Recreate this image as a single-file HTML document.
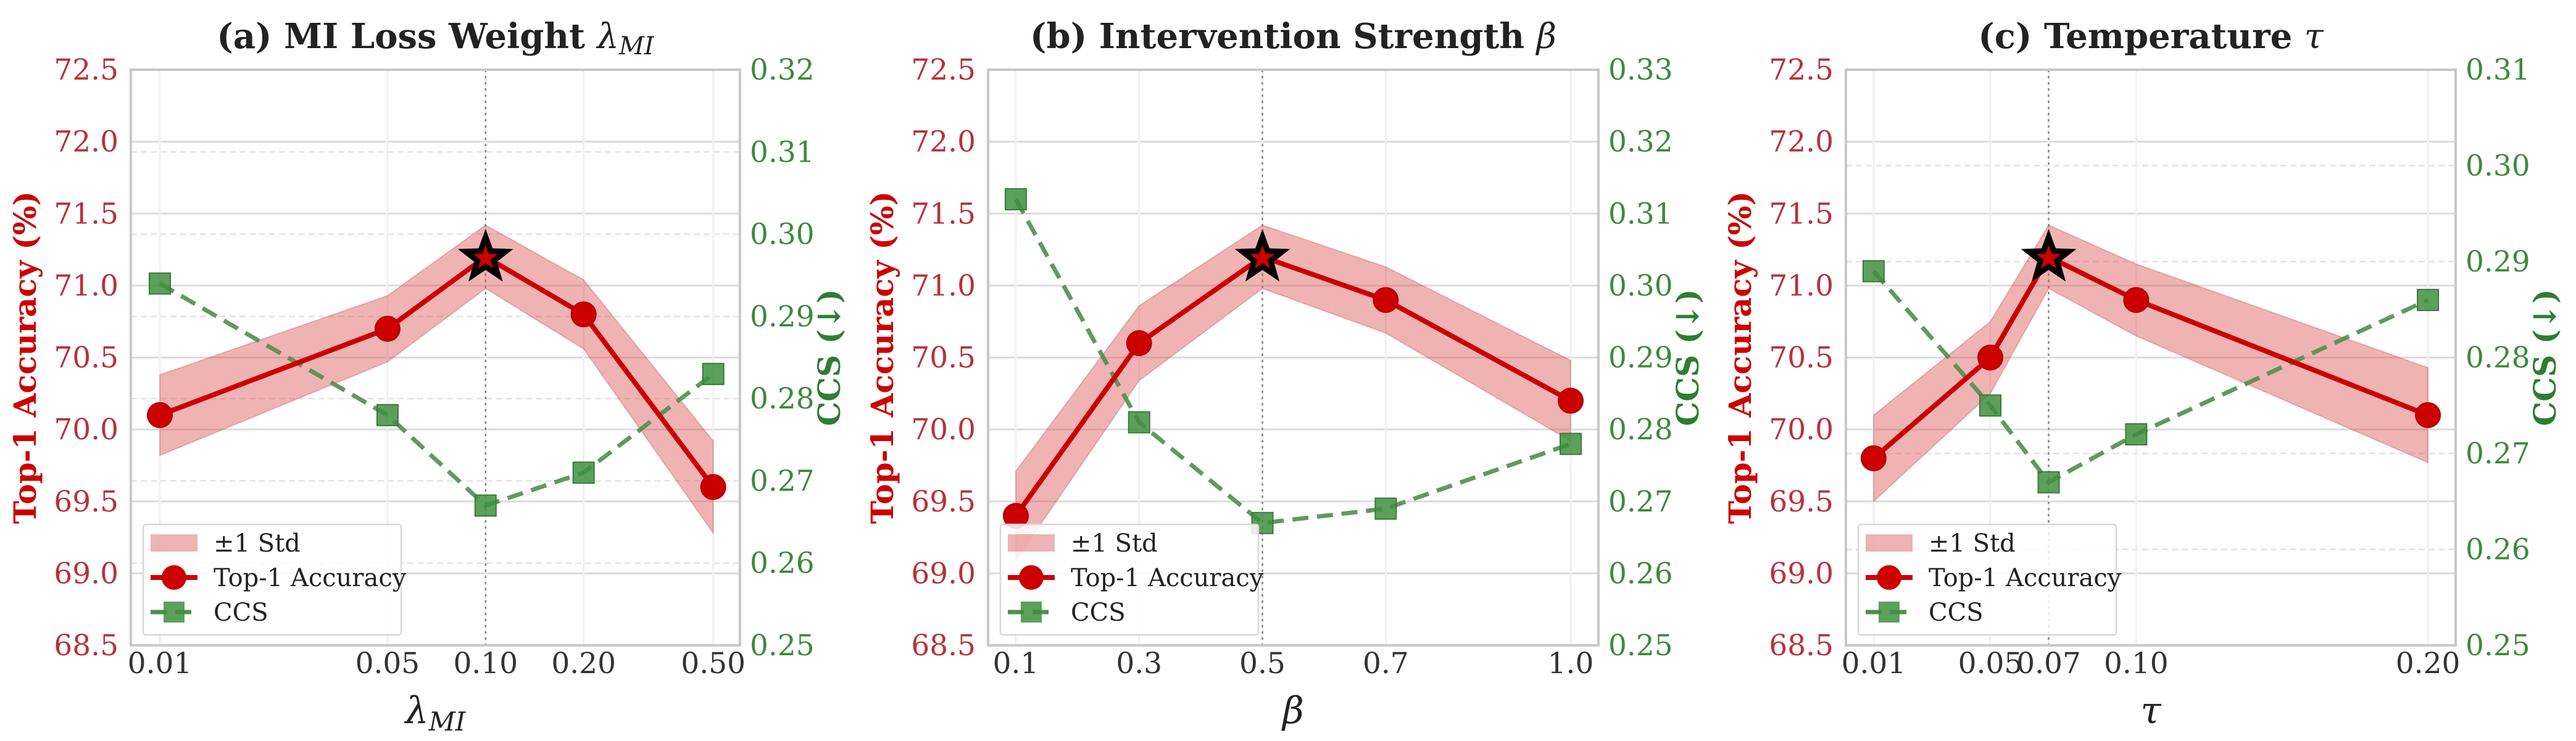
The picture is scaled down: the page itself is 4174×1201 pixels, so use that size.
<!DOCTYPE html>
<html><head><meta charset="utf-8">
<style>
html,body{margin:0;padding:0;background:#fff;}
svg{display:block;}
text{font-family:"DejaVu Serif","Liberation Serif",serif;}
</style></head>
<body>
<svg id="fig" width="4174" height="1201" viewBox="0 0 4174 1201" xmlns="http://www.w3.org/2000/svg"></svg>
<script>
// ---- Panel A data ----
const aX = [0.01, 0.05, 0.10, 0.20, 0.50];
const aTicks = ["0.01","0.05","0.10","0.20","0.50"];
const aAcc = [70.1, 70.7, 71.2, 70.8, 69.6];
const aStd = [0.28, 0.23, 0.22, 0.24, 0.32];
const aCcs = [0.294, 0.278, 0.267, 0.271, 0.283];
const aRightTicks = ["0.25","0.26","0.27","0.28","0.29","0.30","0.31","0.32"];
// ---- Panel B data ----
const bX = [0.1, 0.3, 0.5, 0.7, 1.0];
const bTicks = ["0.1","0.3","0.5","0.7","1.0"];
const bAcc = [69.4, 70.6, 71.2, 70.9, 70.2];
const bStd = [0.31, 0.26, 0.22, 0.23, 0.28];
const bCcs = [0.312, 0.281, 0.267, 0.269, 0.278];
const bRightTicks = ["0.25","0.26","0.27","0.28","0.29","0.30","0.31","0.32","0.33"];
// ---- Panel C data ----
const cX = [0.01, 0.05, 0.07, 0.10, 0.20];
const cTicks = ["0.01","0.05","0.07","0.10","0.20"];
const cAcc = [69.8, 70.5, 71.2, 70.9, 70.1];
const cStd = [0.30, 0.25, 0.22, 0.25, 0.33];
const cCcs = [0.289, 0.275, 0.267, 0.272, 0.286];
const cRightTicks = ["0.25","0.26","0.27","0.28","0.29","0.30","0.31"];
// shared left axis ticks
const leftTicks = ["68.5","69.0","69.5","70.0","70.5","71.0","71.5","72.0","72.5"];

const NS = "http://www.w3.org/2000/svg";
const svg = document.getElementById('fig');
function el(tag, attrs, parent, txt){
  const e = document.createElementNS(NS, tag);
  for (const k in attrs) e.setAttribute(k, attrs[k]);
  if (txt !== undefined) e.textContent = txt;
  (parent||svg).appendChild(e);
  return e;
}
const RED="#cc0000";
const TOP=113, BOT=1046;

function starPath(cx, cy, R, r){
  let d="";
  for(let i=0;i<10;i++){
    const ang=-Math.PI/2+i*Math.PI/5;
    const rad=i%2?r:R;
    d+=(i?"L":"M")+(cx+rad*Math.cos(ang)).toFixed(1)+","+(cy+rad*Math.sin(ang)).toFixed(1);
  }
  return d+"Z";
}

function panel(opt){
  const g = el('g',{});
  
  
  const L=opt.left, R=opt.right;
  const xs = opt.log ? (v)=>L+(Math.log10(v)-opt.xmin)/(opt.xmax-opt.xmin)*(R-L)
                     : (v)=>L+(v-opt.xmin)/(opt.xmax-opt.xmin)*(R-L);
  const yl = (v)=>BOT-(v-68.5)/(72.5-68.5)*(BOT-TOP);
  const rmin=parseFloat(opt.rticks[0]), rmax=parseFloat(opt.rticks[opt.rticks.length-1]);
  const yr = (v)=>BOT-(v-rmin)/(rmax-rmin)*(BOT-TOP);

  const bg=el('rect',{x:L,y:TOP,width:R-L,height:BOT-TOP,fill:'#fff'},g);
   
  opt.rticks.forEach(t=>{
    const y=yr(parseFloat(t));
    const ln=el('line',{x1:L,x2:R,y1:y,y2:y,stroke:'#e4e4e4','stroke-width':2.5,'stroke-dasharray':'10,6'},g);
     
  });
  leftTicks.forEach(t=>{
    const y=yl(parseFloat(t));
    const ln=el('line',{x1:L,x2:R,y1:y,y2:y,stroke:'#dcdcdc','stroke-width':3},g);
     
  });
  opt.x.forEach(v=>{
    const x=xs(v);
    const ln=el('line',{x1:x,x2:x,y1:TOP,y2:BOT,stroke:'#f0f0f0','stroke-width':3},g);
     
  });
  const bi=opt.acc.indexOf(Math.max(...opt.acc));
  const vl=el('line',{x1:xs(opt.x[bi]),x2:xs(opt.x[bi]),y1:TOP,y2:BOT,stroke:'#888','stroke-width':2.5,'stroke-dasharray':'4,6'},g);
   

  let d="";
  opt.x.forEach((v,i)=>{ d+=(i?"L":"M")+xs(v)+","+yl(opt.acc[i]+opt.std[i]); });
  for(let i=opt.x.length-1;i>=0;i--){ d+="L"+xs(opt.x[i])+","+yl(opt.acc[i]-opt.std[i]); }
  const band=el('path',{d:d+"Z",fill:'#d84a4a','fill-opacity':0.42,stroke:'#c04040','stroke-opacity':0.3,'stroke-width':2},g);
   

  let cd="";
  opt.x.forEach((v,i)=>{ cd+=(i?"L":"M")+xs(v)+","+yr(opt.ccs[i]); });
  const cl=el('path',{d:cd,fill:'none',stroke:'#4e8f4e','stroke-width':7,'stroke-dasharray':'26,14','stroke-opacity':0.9},g);
   
  opt.ccs.forEach((v,i)=>{
    const s=el('rect',{x:xs(opt.x[i])-17,y:yr(v)-17,width:34,height:34,fill:'#3f8f3f','fill-opacity':0.85,stroke:'#3a7a3a','stroke-width':2},g);
     
  });

  let ad="";
  opt.x.forEach((v,i)=>{ ad+=(i?"L":"M")+xs(v)+","+yl(opt.acc[i]); });
  const al=el('path',{d:ad,fill:'none',stroke:RED,'stroke-width':8,'stroke-linejoin':'round'},g);
   
  opt.acc.forEach((v,i)=>{
    if(i===bi) return;
    const c=el('circle',{cx:xs(opt.x[i]),cy:yl(v),r:20,fill:RED,stroke:'#b00000','stroke-width':2},g);
     
  });
  const st=el('path',{d:starPath(xs(opt.x[bi]),yl(opt.acc[bi])+2,34,14),fill:RED,stroke:'#000','stroke-width':9,'stroke-linejoin':'miter'},g);
   

  const br=el('rect',{x:L,y:TOP,width:R-L,height:BOT-TOP,fill:'none',stroke:'#c8c8c8','stroke-width':4},g);
   

  leftTicks.forEach(t=>{
    const tx=el('text',{x:L-20,y:yl(parseFloat(t))+16,'text-anchor':'end','font-size':47,fill:'#b8323a'},g,t);
     
  });
  opt.rticks.forEach(t=>{
    const tx=el('text',{x:R+16,y:yr(parseFloat(t))+16,'text-anchor':'start','font-size':47,fill:'#3d8a3d'},g,t);
     
  });
  opt.x.forEach((v,i)=>{
    const tx=el('text',{x:xs(v),y:1091,'text-anchor':'middle','font-size':47,fill:'#333'},g,opt.ticks[i]);
     
  });

  const cyMid=(TOP+BOT)/2;
  const ylab=el('text',{x:0,y:0,transform:`translate(${L-154},${cyMid}) rotate(-90)`,'text-anchor':'middle','font-size':50,'font-weight':'bold',fill:RED},g,'Top-1 Accuracy (%)');
   
  const rlab=el('text',{x:0,y:0,transform:`translate(${R+162},${cyMid}) rotate(-90)`,'text-anchor':'middle','font-size':50,'font-weight':'bold',fill:'#2e7d32'},g,'CCS (↓)');
   
  const xl=el('text',{x:(L+R)/2,y:1172,'text-anchor':'middle','font-size':60,'font-style':'italic',fill:'#222'},g);
   
  xl.innerHTML=opt.xlabel;
  const tt=el('text',{x:(L+R)/2,y:78,'text-anchor':'middle','font-size':56,'font-weight':'bold',fill:'#222'},g);
   
  tt.innerHTML=opt.title;

  const lg=el('g',{},g);
   
  const lx=L+20, ly=850;
  el('rect',{x:lx,y:ly,width:418,height:179,fill:'#fff','fill-opacity':0.85,stroke:'#d8d8d8','stroke-width':2.5,rx:4},lg);
  const e1=el('rect',{x:lx+12,y:ly+16,width:76,height:28,fill:'#d84a4a','fill-opacity':0.42},lg);
   
  el('text',{x:lx+114,y:ly+44,'font-size':40,fill:'#222'},lg,'±1 Std');
  el('line',{x1:lx+12,x2:lx+88,y1:ly+86,y2:ly+86,stroke:RED,'stroke-width':8},lg);
  el('circle',{cx:lx+50,cy:ly+86,r:20,fill:RED},lg);
  el('text',{x:lx+114,y:ly+100,'font-size':40,fill:'#222'},lg,'Top-1 Accuracy');
  el('line',{x1:lx+12,x2:lx+88,y1:ly+142,y2:ly+142,stroke:'#4e8f4e','stroke-width':7,'stroke-dasharray':'26,14'},lg);
  el('rect',{x:lx+33,y:ly+125,width:34,height:34,fill:'#3f8f3f','fill-opacity':0.85},lg);
  el('text',{x:lx+114,y:ly+156,'font-size':40,fill:'#222'},lg,'CCS');
}

panel({name:'panel-a-mi-loss-weight',left:212,right:1199,log:true,xmin:-2.089,xmax:-0.219,
  x:aX,ticks:aTicks,acc:aAcc,std:aStd,ccs:aCcs,rticks:aRightTicks,
  title:'(a) MI Loss Weight <tspan font-style="italic" font-weight="normal">λ</tspan><tspan font-style="italic" font-weight="normal" font-size="40" dy="10">MI</tspan>',
  xlabel:'λ<tspan font-size="42" dy="12">MI</tspan>'});
panel({name:'panel-b-intervention-strength',left:1601,right:2590,log:false,xmin:0.055,xmax:1.045,
  x:bX,ticks:bTicks,acc:bAcc,std:bStd,ccs:bCcs,rticks:bRightTicks,
  title:'(b) Intervention Strength <tspan font-style="italic" font-weight="normal">β</tspan>',
  xlabel:'β'});
panel({name:'panel-c-temperature',left:2991,right:3979,log:false,xmin:0.0005,xmax:0.2095,
  x:cX,ticks:cTicks,acc:cAcc,std:cStd,ccs:cCcs,rticks:cRightTicks,
  title:'(c) Temperature <tspan font-style="italic" font-weight="normal">τ</tspan>',
  xlabel:'τ'});
</script>
</body></html>
